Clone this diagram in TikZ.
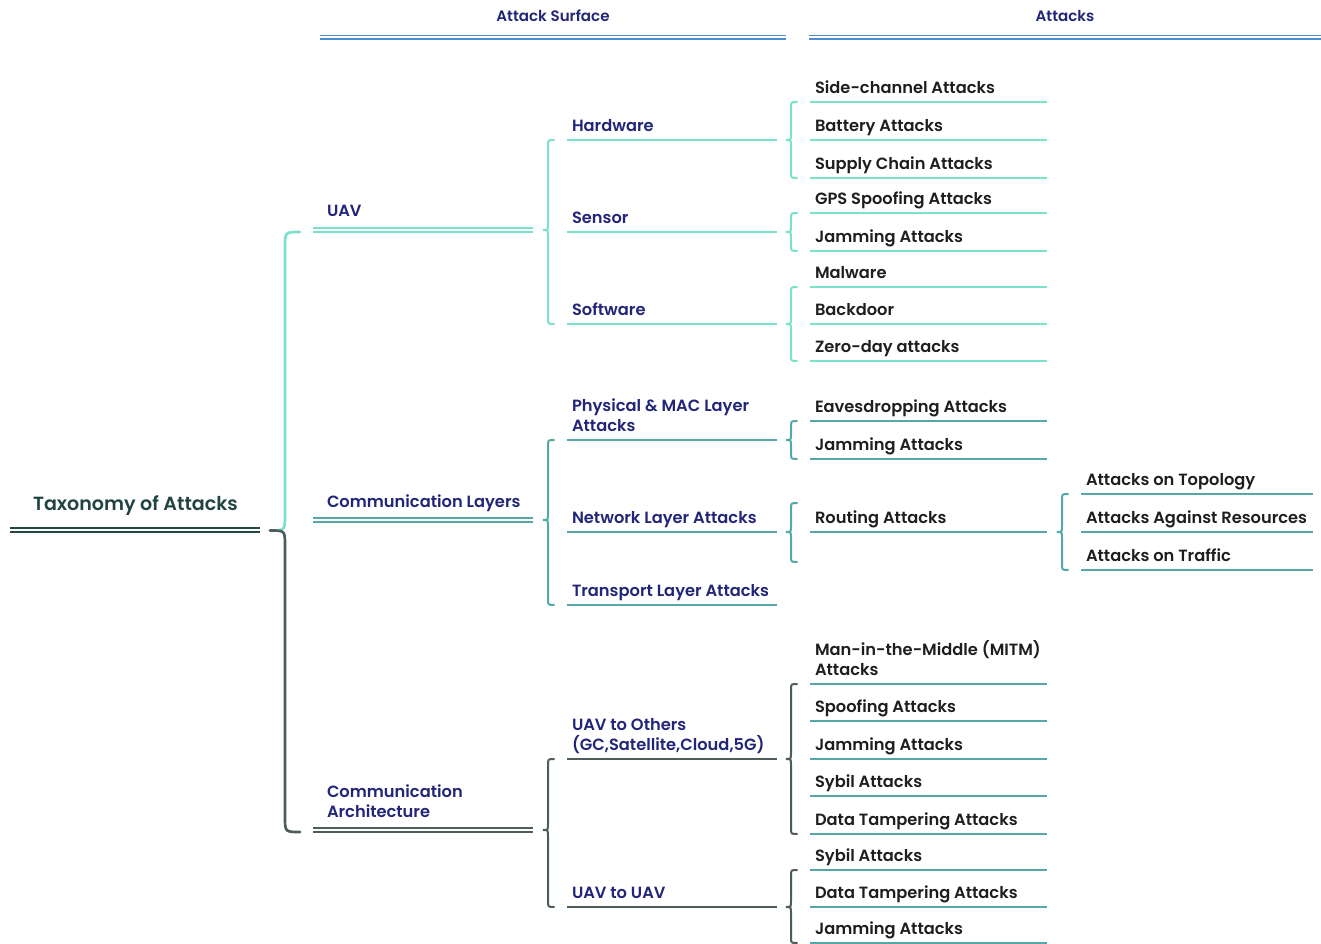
\documentclass[tikz,border=0pt]{standalone}
\usepackage{fontspec}
\setmainfont{Poppins}[UprightFont=* SemiBold, BoldFont=* Bold]
\usetikzlibrary{calc}
\definecolor{navy}{RGB}{33,38,120}
\definecolor{leafc}{RGB}{30,30,32}
\definecolor{rootc}{RGB}{32,68,66}
\definecolor{lteal}{RGB}{122,226,204}
\definecolor{mteal}{RGB}{84,168,168}
\definecolor{slate}{RGB}{78,92,90}
\definecolor{hblue}{RGB}{78,140,208}
\definecolor{rootl}{RGB}{36,70,68}
\tikzset{
 every node/.style={inner sep=0pt, outer sep=0pt},
 txt/.style={anchor=south west, align=left, font=\fontsize{12.2}{15}\selectfont},
 l1txt/.style={txt, text=navy},
 leaftxt/.style={txt, text=leafc},
 hdr/.style={anchor=base, text=navy, font=\fontsize{11.3}{13}\selectfont},
 single/.style={line width=1.5pt},
 dbl/.style={line width=1.5pt, double=white, double distance=1.5pt},
 brc/.style={line width=1.5pt, line cap=round},
}
% name, text x, text baseline, x1, x2, line y, line style, text style, text
\newcommand\itm[9]{%
 \draw[#7] (#4,#6) coordinate (#1-a) -- (#5,#6) coordinate (#1-b);
 \node[#8] (#1) at (#2,{#3+7.5}) {#9\strut};}
\newcommand\leaf[4]{\itm{#1}{815}{#2-10}{810}{1047}{#2}{#3,single}{leaftxt}{#4}}
% style, parent coord, first child start, last child start
\newcommand\mybrace[4]{%
 \draw[brc,#1] let \p1=(#2), \p2=(#3), \p3=(#4) in
 ({\x2-9.75pt},\y2) .. controls ({\x2-14.25pt},\y2) .. ({\x2-14.25pt},{\y2-4.5pt})
 -- ({\x2-14.25pt},{\y1+4.5pt}) .. controls ({\x2-14.25pt},\y1) .. ({\x2-18pt},\y1)
 .. controls ({\x2-14.25pt},\y1) .. ({\x2-14.25pt},{\y1-4.5pt})
 -- ({\x2-14.25pt},{\y3+4.5pt}) .. controls ({\x2-14.25pt},\y3) .. ({\x2-9.75pt},\y3);}
\begin{document}
\begin{tikzpicture}[x=0.75pt,y=-0.75pt]
\useasboundingbox[fill=white] (0,0) rectangle (1321,944);
% header
\node[hdr] (hAS) at (553,21.5) {Attack Surface};
\node[hdr] (hAT) at (1065,21.5) {Attacks};
\draw[hblue, line width=1pt, double=white, double distance=1.8pt] (320,37.3) coordinate (hl1) -- (786,37.3) coordinate (hl2);
\draw[hblue, line width=1pt, double=white, double distance=1.8pt] (809,37.3) coordinate (hl3) -- (1321,37.3) coordinate (hl4);
% root
\itm{root}{33}{509}{10}{260}{530}{rootl,dbl}{txt,text=rootc,font=\fontsize{14.3}{16}\selectfont}{Taxonomy of Attacks}
% level 1
\itm{uav}{327}{215}{313}{533}{230}{lteal,dbl}{l1txt}{UAV}
\itm{cl}{327}{506}{313}{533}{520}{mteal,dbl}{l1txt}{Communication Layers}
\itm{ca}{327}{816}{313}{533}{830}{slate,dbl}{l1txt}{Communication\\Architecture}
% root bracket
\coordinate (rtip) at (270,530.5);
\draw[brc, lteal, line width=2pt] (300,232) .. controls (285,232) .. (285,247) -- (285,515) .. controls (285,530.5) .. (rtip);
\draw[brc, slate, line width=2pt] (rtip) .. controls (285,530.5) .. (285,546) -- (285,817) .. controls (285,832) .. (300,832);
% level 2
\itm{hw}{572}{130}{567}{777}{140}{lteal,single}{l1txt}{Hardware}
\itm{se}{572}{222}{567}{777}{232}{lteal,single}{l1txt}{Sensor}
\itm{sw}{572}{314}{567}{777}{324}{lteal,single}{l1txt}{Software}
\itm{pm}{572}{430}{567}{777}{440}{mteal,single}{l1txt}{Physical \& MAC Layer\\Attacks}
\itm{nl}{572}{522}{567}{777}{532}{mteal,single}{l1txt}{Network Layer Attacks}
\itm{tl}{572}{595}{567}{777}{605}{mteal,single}{l1txt}{Transport Layer Attacks}
\itm{uo}{572}{749}{567}{777}{759}{slate,single}{l1txt}{UAV to Others\\(GC,Satellite,Cloud,5G)}
\itm{uu}{572}{897}{567}{777}{907}{slate,single}{l1txt}{UAV to UAV}
% leaves
\leaf{hw1}{102}{lteal}{Side-channel Attacks}
\leaf{hw2}{140}{lteal}{Battery Attacks}
\leaf{hw3}{178}{lteal}{Supply Chain Attacks}
\leaf{se1}{213}{lteal}{GPS Spoofing Attacks}
\leaf{se2}{251}{lteal}{Jamming Attacks}
\leaf{sw1}{287}{lteal}{Malware}
\leaf{sw2}{324}{lteal}{Backdoor}
\leaf{sw3}{361}{lteal}{Zero-day attacks}
\leaf{pm1}{421}{mteal}{Eavesdropping Attacks}
\leaf{pm2}{459}{mteal}{Jamming Attacks}
\leaf{rt}{532}{mteal}{Routing Attacks}
\leaf{uo1}{684}{mteal}{Man-in-the-Middle (MITM)\\Attacks}
\leaf{uo2}{721}{mteal}{Spoofing Attacks}
\leaf{uo3}{759}{mteal}{Jamming Attacks}
\leaf{uo4}{796}{mteal}{Sybil Attacks}
\leaf{uo5}{834}{mteal}{Data Tampering Attacks}
\leaf{uu1}{870}{mteal}{Sybil Attacks}
\leaf{uu2}{907}{mteal}{Data Tampering Attacks}
\leaf{uu3}{943}{mteal}{Jamming Attacks}
% level 4
\itm{t1}{1086}{484}{1081}{1313}{494}{mteal,single}{leaftxt}{Attacks on Topology}
\itm{t2}{1086}{522}{1081}{1313}{532}{mteal,single}{leaftxt}{Attacks Against Resources}
\itm{t3}{1086}{560}{1081}{1313}{570}{mteal,single}{leaftxt}{Attacks on Traffic}
% braces
\coordinate (nlt) at (810,503);
\coordinate (nlb) at (810,562);
\mybrace{lteal}{uav-b}{hw-a}{sw-a}
\mybrace{lteal}{hw-b}{hw1-a}{hw3-a}
\mybrace{lteal}{se-b}{se1-a}{se2-a}
\mybrace{lteal}{sw-b}{sw1-a}{sw3-a}
\mybrace{mteal}{cl-b}{pm-a}{tl-a}
\mybrace{mteal}{pm-b}{pm1-a}{pm2-a}
\mybrace{mteal}{nl-b}{nlt}{nlb}
\mybrace{mteal}{rt-b}{t1-a}{t3-a}
\mybrace{slate}{ca-b}{uo-a}{uu-a}
\mybrace{slate}{uo-b}{uo1-a}{uo5-a}
\mybrace{slate}{uu-b}{uu1-a}{uu3-a}
\end{tikzpicture}
\end{document}
